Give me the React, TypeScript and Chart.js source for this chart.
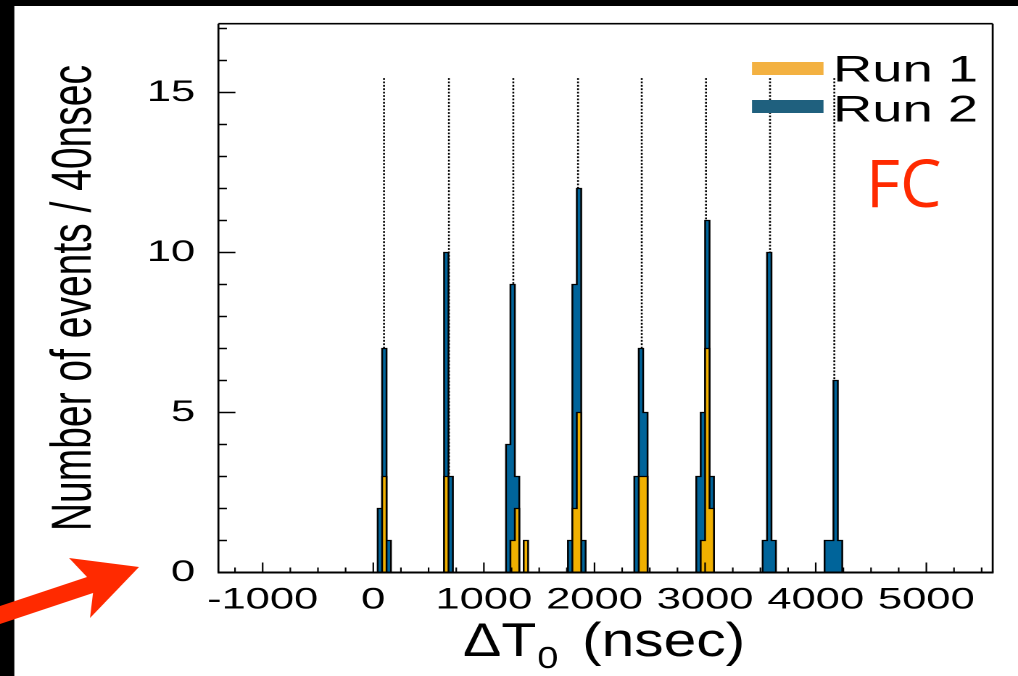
import React, { useEffect, useRef } from "react";
import { Chart, registerables } from "chart.js";

Chart.register(...registerables);

// ---------------- data ----------------
const BIN_WIDTH = 40; // nsec per bin
const X_MIN = -1400;
const X_MAX = 5600;
const Y_MAX = 17.15;

const seriesLabels = ["Run 1", "Run 2"];

// left edges of the non-empty 40 ns bins, and their counts
const run1BinStarts = [80, 640, 1240, 1280, 1360, 1800, 1840, 2400, 2440, 2960, 3000, 3040];
const run1Counts = [3, 3, 1, 2, 1, 2, 5, 3, 3, 1, 7, 2];

const run2BinStarts = [
  40, 80, 120, 640, 680, 1200, 1240, 1280, 1760, 1800, 1840, 1880, 2360, 2400, 2440,
  2920, 2960, 3000, 3040, 3520, 3560, 3600, 4080, 4120, 4160, 4200,
];
const run2Counts = [
  2, 7, 1, 10, 3, 4, 9, 3, 1, 9, 12, 1, 3, 7, 5, 3, 5, 11, 3, 1, 10, 1, 1, 1, 6, 1,
];

// dotted bunch markers
const markerPositions = [97, 684, 1266, 1851, 2427, 3008, 3587, 4168];
const markerTop = 15.45;

const xTickValues = [-1000, 0, 1000, 2000, 3000, 4000, 5000];
const yTickValues = [0, 5, 10, 15];
const xMinorStep = 250;
const yMinorStep = 1;

const histColors = ["#f0b000", "#00649a"];
const legendColors = ["#f3b141", "#1f607e"];

// ---------------- layout ----------------
const PAGE_W = 1018;
const PAGE_H = 676;
const CW = 702;
const CH = 676;
const S = PAGE_W / CW; // horizontal stretch of the figure
const FRAME_L = 218.4 / S;
const FRAME_R = 992.7 / S;
const FRAME_T = 23.7;
const FRAME_B = 572.5;
const FONT = '"Liberation Sans", Arial, sans-serif';

function toSteps(starts: number[], counts: number[]) {
  const pts: { x: number; y: number }[] = [{ x: X_MIN, y: 0 }];
  starts.forEach((s, i) => {
    pts.push({ x: s, y: counts[i] });
    if (starts[i + 1] !== s + BIN_WIDTH) pts.push({ x: s + BIN_WIDTH, y: 0 });
  });
  pts.push({ x: X_MAX, y: 0 });
  return pts;
}

function inPage(ctx: CanvasRenderingContext2D, fn: () => void) {
  ctx.save();
  ctx.scale(1 / S, 1);
  fn();
  ctx.restore();
}

function stretchedText(
  ctx: CanvasRenderingContext2D,
  text: string,
  px: number,
  py: number,
  font: string,
  k: number,
  color: string
) {
  ctx.save();
  ctx.translate(px, py);
  ctx.scale(k, 1);
  ctx.font = font;
  ctx.fillStyle = color;
  ctx.textAlign = "left";
  ctx.textBaseline = "alphabetic";
  ctx.fillText(text, 0, 0);
  const w = ctx.measureText(text).width * k;
  ctx.restore();
  return w;
}

const decor = {
  id: "decor",
  beforeDatasetsDraw(chart: any) {
    const { ctx, scales } = chart;
    const xs = scales.x;
    const ys = scales.y;
    ctx.save();
    ctx.strokeStyle = "#000";
    ctx.lineWidth = 1.3;
    ctx.setLineDash([1.8, 1.6]);
    markerPositions.forEach((v) => {
      const px = xs.getPixelForValue(v);
      ctx.beginPath();
      ctx.moveTo(px, ys.getPixelForValue(markerTop));
      ctx.lineTo(px, ys.getPixelForValue(0));
      ctx.stroke();
    });
    ctx.restore();
  },
  afterDatasetsDraw(chart: any) {
    const { ctx, scales, chartArea } = chart;
    const xs = scales.x;
    const ys = scales.y;
    const { left, right, top, bottom } = chartArea;
    ctx.save();
    ctx.strokeStyle = "#000";
    ctx.setLineDash([]);
    // y ticks (inward)
    ctx.lineWidth = 1.5;
    for (let v = yMinorStep; v <= Y_MAX; v += yMinorStep) {
      const py = ys.getPixelForValue(v);
      const major = yTickValues.includes(v);
      ctx.beginPath();
      ctx.moveTo(left, py);
      ctx.lineTo(left + (major ? 17 : 8.5) / S, py);
      ctx.stroke();
    }
    // x ticks (inward)
    ctx.lineWidth = 1.1;
    const firstMinor = Math.ceil((X_MIN + 1) / xMinorStep) * xMinorStep;
    for (let v = firstMinor; v < X_MAX; v += xMinorStep) {
      const px = xs.getPixelForValue(v);
      const major = xTickValues.includes(v);
      ctx.beginPath();
      ctx.moveTo(px, bottom);
      ctx.lineTo(px, bottom - (major ? 10 : 5));
      ctx.stroke();
    }
    // frame
    ctx.lineWidth = 1.35;
    ctx.beginPath();
    ctx.moveTo(left, top);
    ctx.lineTo(left, bottom);
    ctx.moveTo(right, top);
    ctx.lineTo(right, bottom);
    ctx.stroke();
    ctx.lineWidth = 1.6;
    ctx.beginPath();
    ctx.moveTo(left, top);
    ctx.lineTo(right, top);
    ctx.stroke();
    ctx.lineWidth = 2.0;
    ctx.beginPath();
    ctx.moveTo(left - 0.6, bottom);
    ctx.lineTo(right + 0.6, bottom);
    ctx.stroke();
    ctx.restore();
  },
  afterDraw(chart: any) {
    const { ctx } = chart;
    const labels = chart.data.datasets.map((d: any) => d.label);
    inPage(ctx, () => {
      // legend
      const rows = [
        { barTop: 62, text: 81.7 },
        { barTop: 100, text: 121.7 },
      ];
      rows.forEach((r, i) => {
        ctx.fillStyle = legendColors[i];
        ctx.fillRect(752, r.barTop, 71.5, 13);
        stretchedText(ctx, labels[i], 833, r.text, `37px ${FONT}`, 1.47, "#000");
      });

      // x axis title with subscript
      const wDT = stretchedText(ctx, "\u0394T", 463, 656, `47px ${FONT}`, 1.22, "#000");
      stretchedText(ctx, "0", 463 + wDT + 1, 668, `31px ${FONT}`, 1.22, "#000");
      stretchedText(ctx, "(nsec)", 582, 656, `47px ${FONT}`, 1.25, "#000");

      // FC label
      stretchedText(ctx, "FC", 866, 207, `500 66px "Open Sans", "Noto Sans", sans-serif`, 1, "#ff2a00");

      // black slide edges
      ctx.fillStyle = "#000";
      ctx.fillRect(0, 0, PAGE_W, 6);
      ctx.fillRect(0, 0, 14.3, PAGE_H);

      // red arrow
      ctx.fillStyle = "#ff2a00";
      ctx.beginPath();
      ctx.moveTo(0, 606);
      ctx.lineTo(87, 577);
      ctx.lineTo(69, 558);
      ctx.lineTo(139, 567);
      ctx.lineTo(90, 618);
      ctx.lineTo(93, 593);
      ctx.lineTo(0, 624);
      ctx.closePath();
      ctx.fill();
    });
  },
};

export default function App() {
  const canvasRef = useRef<HTMLCanvasElement | null>(null);

  useEffect(() => {
    const canvas = canvasRef.current;
    if (!canvas) return;
    const chart = new Chart(canvas, {
      type: "line",
      data: {
        datasets: [
          {
            label: seriesLabels[0],
            data: toSteps(run1BinStarts, run1Counts),
            stepped: true,
            fill: "origin",
            backgroundColor: histColors[0],
            borderColor: "#000",
            borderWidth: 1.25,
            pointRadius: 0,
          },
          {
            label: seriesLabels[1],
            data: toSteps(run2BinStarts, run2Counts),
            stepped: true,
            fill: "origin",
            backgroundColor: histColors[1],
            borderColor: "#000",
            borderWidth: 1.25,
            pointRadius: 0,
          },
        ],
      },
      options: {
        responsive: false,
        devicePixelRatio: 2,
        animation: false,
        events: [],
        layout: { padding: { left: 0, right: CW - FRAME_R, top: FRAME_T, bottom: 0 } },
        plugins: {
          legend: { display: false },
          tooltip: { enabled: false },
          title: { display: false },
        },
        scales: {
          x: {
            type: "linear",
            min: X_MIN,
            max: X_MAX,
            afterFit: (s: any) => {
              s.height = CH - FRAME_B;
              s.paddingLeft = 0;
              s.paddingRight = 0;
            },
            afterBuildTicks: (s: any) => {
              s.ticks = xTickValues.map((v) => ({ value: v }));
            },
            grid: { display: false, drawTicks: false },
            border: { display: false },
            ticks: {
              color: "#000",
              font: { family: FONT, size: 30 },
              padding: 9.5,
              maxRotation: 0,
              minRotation: 0,
              autoSkip: false,
              callback: (v: any) => String(v),
            },
          },
          y: {
            type: "linear",
            min: 0,
            max: Y_MAX,
            afterFit: (s: any) => {
              s.width = FRAME_L;
              s.paddingTop = 0;
              s.paddingBottom = 0;
            },
            afterBuildTicks: (s: any) => {
              s.ticks = yTickValues.map((v) => ({ value: v }));
            },
            grid: { display: false, drawTicks: false },
            border: { display: false },
            ticks: {
              color: "#000",
              font: { family: FONT, size: 30 },
              padding: 16,
              autoSkip: false,
              callback: (v: any) => String(v),
            },
            title: {
              display: true,
              text: "Number of events / 40nsec",
              color: "#000",
              font: { family: FONT, size: 39 },
              padding: { top: 28.3, bottom: 0 },
            },
          },
        },
      },
      plugins: [decor],
    });
    return () => chart.destroy();
  }, []);

  return (
    <div
      style={{
        position: "fixed",
        left: 0,
        top: 0,
        width: PAGE_W,
        height: PAGE_H,
        overflow: "hidden",
        background: "#fff",
      }}
    >
      <div
        style={{
          width: CW,
          height: CH,
          transform: `scaleX(${S})`,
          transformOrigin: "0 0",
        }}
      >
        <canvas ref={canvasRef} width={CW} height={CH} />
      </div>
    </div>
  );
}
